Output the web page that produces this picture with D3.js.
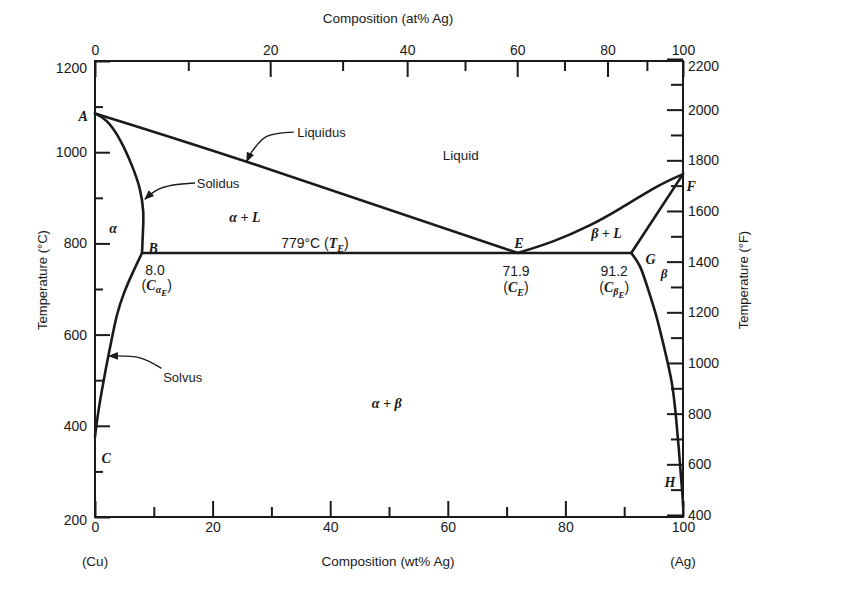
<!DOCTYPE html>
<html>
<head>
<meta charset="utf-8">
<script src="https://cdn.jsdelivr.net/npm/d3@7/dist/d3.min.js"></script>
<style>
body { margin: 0; background: #fff; }
text { font-family: "Liberation Sans", Arial, sans-serif; fill: #1a1a1a; }
.it { font-family: "Liberation Serif", "Times New Roman", serif; font-style: italic; font-weight: bold; }
.axis line { stroke: #1a1a1a; stroke-width: 2; }
.axis path { display: none; }
</style>
</head>
<body>
<svg id="chart" width="850" height="604"></svg>
<script>
// phase boundaries as [wt% Ag, temperature in °C]
var liquidusAE = [[0, 1085], [25.8, 979], [71.9, 779]];
var liquidusEF = [[71.9, 779], [78, 805], [84.2, 840], [89.5, 878], [95.5, 924], [100, 952]];
var solidusAB = [[0, 1085], [2.0, 1068], [4.25, 1027], [6.3, 970], [7.6, 920], [8.2, 870], [8.15, 825], [8.0, 779]];
var solvusBC = [[8.0, 779], [6.46, 737], [4.93, 691], [3.74, 643], [2.81, 588], [1.96, 533], [1.19, 479], [0.56, 430], [0.14, 391], [0, 375]];
var solidusGF = [[91.2, 779], [100, 952]];
var solvusGH = [[91.2, 779], [92.7, 749], [94.1, 698], [95.5, 639], [96.9, 566], [98.1, 494], [98.8, 420], [99.3, 347], [99.65, 290], [99.9, 250], [100, 225]];
var eutectic = [[8.0, 779], [91.2, 779]];

// tick values
var wtMajor = [0, 20, 40, 60, 80, 100];
var wtMinor = [10, 30, 50, 70, 90];
var atMajor = [0, 20, 40, 60, 80, 100];
var atMinor = [10, 30, 50, 70, 90];
var cMajor = [200, 400, 600, 800, 1000, 1200];
var cMinor = [300, 500, 700, 900, 1100];
var fMajor = [400, 600, 800, 1000, 1200, 1400, 1600, 1800, 2000, 2200];
var fMinor = [500, 700, 900, 1100, 1300, 1500, 1700, 1900, 2100];

var MASS_CU = 63.55;
var MASS_AG = 107.87;

var svg = d3.select("#chart");
var plotLeft = 95, plotTop = 61, plotWidth = 588, plotHeight = 456;
var plotBottom = plotTop + plotHeight, plotRight = plotLeft + plotWidth;

var x = d3.scaleLinear().domain([0, 100]).range([plotLeft, plotRight]);
var y = d3.scaleLinear().domain([200, 1200]).range([plotBottom, plotTop]);
var yF = d3.scaleLinear().domain([200 * 1.8 + 32, 1200 * 1.8 + 32]).range([plotBottom, plotTop]);

var atToWt = function(a) {
  return 100 * a * MASS_AG / (a * MASS_AG + (100 - a) * MASS_CU);
};
var atAll = atMajor.concat(atMinor).sort(d3.ascending);
var xAt = d3.scaleLinear().domain(atAll).range(atAll.map(function(a) { return x(atToWt(a)); }));

var styleAxis = function(g) {
  g.attr("class", "axis").attr("font-size", 14).attr("font-family", null);
  g.selectAll("text").attr("fill", "#1a1a1a");
};

// bottom: wt%
svg.append("g").attr("transform", "translate(0," + plotBottom + ")")
  .call(d3.axisBottom(x).tickValues(wtMajor).tickSize(-16).tickPadding(5)).call(styleAxis);
svg.append("g").attr("transform", "translate(0," + plotBottom + ")")
  .call(d3.axisBottom(x).tickValues(wtMinor).tickSize(-10).tickFormat("")).call(styleAxis);

// top: at%
svg.append("g").attr("transform", "translate(0," + plotTop + ")")
  .call(d3.axisTop(xAt).tickValues(atMajor).tickSize(-16).tickPadding(6)).call(styleAxis);
svg.append("g").attr("transform", "translate(0," + plotTop + ")")
  .call(d3.axisTop(xAt).tickValues(atMinor).tickSize(-10).tickFormat("")).call(styleAxis);

// left: °C
var leftAxis = svg.append("g").attr("transform", "translate(" + plotLeft + ",0)")
  .call(d3.axisLeft(y).tickValues(cMajor).tickSize(-15).tickPadding(8).tickFormat(d3.format("d"))).call(styleAxis);
leftAxis.selectAll(".tick text").filter(function(d) { return d === 1200; }).attr("y", 7);
leftAxis.selectAll(".tick text").filter(function(d) { return d === 200; }).attr("y", 3);
svg.append("g").attr("transform", "translate(" + plotLeft + ",0)")
  .call(d3.axisLeft(y).tickValues(cMinor).tickSize(-8).tickFormat("")).call(styleAxis);

// right: °F
var rightAxis = svg.append("g").attr("transform", "translate(" + plotRight + ",0)")
  .call(d3.axisRight(yF).tickValues(fMajor).tickSize(-16).tickPadding(5).tickFormat(d3.format("d"))).call(styleAxis);
rightAxis.selectAll(".tick text").filter(function(d) { return d === 2200; }).attr("y", 7);
svg.append("g").attr("transform", "translate(" + plotRight + ",0)")
  .call(d3.axisRight(yF).tickValues(fMinor).tickSize(-12).tickFormat("")).call(styleAxis);

// frame
svg.append("rect")
  .attr("x", plotLeft).attr("y", plotTop).attr("width", plotWidth).attr("height", plotHeight)
  .attr("fill", "none").attr("stroke", "#1a1a1a").attr("stroke-width", 2);

// axis titles
svg.append("text").attr("x", 388).attr("y", 23).attr("text-anchor", "middle")
  .attr("font-size", 13.5).text("Composition (at% Ag)");
svg.append("text").attr("x", 388).attr("y", 566).attr("text-anchor", "middle")
  .attr("font-size", 13.5).text("Composition (wt% Ag)");
svg.append("text").attr("x", x(0)).attr("y", 566).attr("text-anchor", "middle")
  .attr("font-size", 13.5).text("(Cu)");
svg.append("text").attr("x", x(100)).attr("y", 566).attr("text-anchor", "middle")
  .attr("font-size", 13.5).text("(Ag)");
svg.append("text").attr("transform", "translate(47,280) rotate(-90)").attr("text-anchor", "middle")
  .attr("font-size", 13).text("Temperature (°C)");
svg.append("text").attr("transform", "translate(748,280) rotate(-90)").attr("text-anchor", "middle")
  .attr("font-size", 13).text("Temperature (°F)");

// phase boundaries
var line = d3.line()
  .x(function(d) { return x(d[0]); })
  .y(function(d) { return y(d[1]); })
  .curve(d3.curveNatural);

[liquidusAE, liquidusEF, solidusAB, solvusBC, solidusGF, solvusGH, eutectic].forEach(function(curve) {
  svg.append("path")
    .attr("d", line(curve))
    .attr("fill", "none")
    .attr("stroke", "#1a1a1a")
    .attr("stroke-width", 2.6)
    .attr("stroke-linejoin", "round")
    .attr("stroke-linecap", "round");
});

// arrows pointing at the named curves
svg.append("defs").append("marker")
  .attr("id", "head")
  .attr("viewBox", "0 0 10 10")
  .attr("refX", 9).attr("refY", 5)
  .attr("markerWidth", 7).attr("markerHeight", 7)
  .attr("orient", "auto")
  .append("path").attr("d", "M0,1L10,5L0,9z").attr("fill", "#1a1a1a");

var arrows = [
  [[33.8, 1044], [29.2, 1034.6], [26.9, 1005], [25.8, 980]],
  [[17.0, 932.5], [13.3, 928], [10.5, 917], [8.5, 897]],
  [[11.3, 526], [7.65, 549], [2.4, 553]]
];
var arrowLine = d3.line()
  .x(function(d) { return x(d[0]); })
  .y(function(d) { return y(d[1]); })
  .curve(d3.curveCatmullRom.alpha(0.5));
arrows.forEach(function(a) {
  svg.append("path")
    .attr("d", arrowLine(a))
    .attr("fill", "none")
    .attr("stroke", "#1a1a1a")
    .attr("stroke-width", 1.4)
    .attr("marker-end", "url(#head)");
});

// labels: wt%, °C, anchor, pieces [text, class, font size, baseline shift]
var labels = [
  {wt: 34.4, t: 1044, anchor: "start", parts: [["Liquidus", "", 13]]},
  {wt: 17.3, t: 932, anchor: "start", parts: [["Solidus", "", 13]]},
  {wt: 11.6, t: 508, anchor: "start", parts: [["Solvus", "", 13]]},
  {wt: 62.2, t: 994, parts: [["Liquid", "", 13.5]]},
  {wt: 3.1, t: 833, parts: [["α", "it", 14]]},
  {wt: 25.5, t: 857, parts: [["α + L", "it", 14]]},
  {wt: 37.4, t: 801.5, parts: [["779°C (", "", 14], ["T", "it", 14], ["E", "it", 10, 4], [")", "", 14]]},
  {wt: 9.9, t: 790.6, parts: [["B", "it", 14]]},
  {wt: 10.2, t: 741.7, parts: [["8.0", "", 14]]},
  {wt: 10.5, t: 709, parts: [["(", "", 14], ["C", "it", 14], ["α", "it", 10, 3], ["E", "it", 9, 6], [")", "", 14]]},
  {wt: 72.1, t: 801.5, parts: [["E", "it", 14]]},
  {wt: 71.6, t: 740, parts: [["71.9", "", 14]]},
  {wt: 71.6, t: 704, parts: [["(", "", 14], ["C", "it", 14], ["E", "it", 10, 4], [")", "", 14]]},
  {wt: 87.0, t: 822, parts: [["β + L", "it", 14]]},
  {wt: 94.5, t: 765, parts: [["G", "it", 14]]},
  {wt: 96.8, t: 736, parts: [["β", "it", 13]]},
  {wt: 88.3, t: 740, parts: [["91.2", "", 14]]},
  {wt: 88.3, t: 704.4, parts: [["(", "", 14], ["C", "it", 14], ["β", "it", 10, 3], ["E", "it", 9, 6], [")", "", 14]]},
  {wt: 49.6, t: 449, parts: [["α + β", "it", 14]]},
  {wt: -2.0, t: 1079, parts: [["A", "it", 14]]},
  {wt: 1.9, t: 329, parts: [["C", "it", 14]]},
  {wt: 101.4, t: 926, parts: [["F", "it", 14]]},
  {wt: 97.8, t: 277, parts: [["H", "it", 14]]}
];

labels.forEach(function(l) {
  var text = svg.append("text")
    .attr("x", x(l.wt))
    .attr("y", y(l.t) + 5)
    .attr("text-anchor", l.anchor || "middle");
  var prev = 0;
  l.parts.forEach(function(p) {
    var shift = p[3] || 0;
    text.append("tspan")
      .attr("class", p[1] || null)
      .attr("font-size", p[2])
      .attr("dy", shift - prev)
      .text(p[0]);
    prev = shift;
  });
});
</script>
</body>
</html>
